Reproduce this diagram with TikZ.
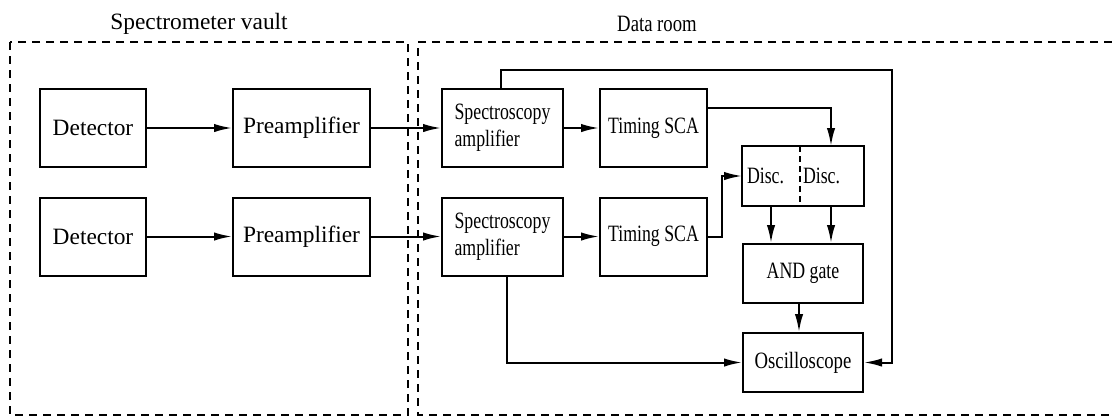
\documentclass[tikz,border=0pt]{standalone}
\usepackage{fontspec}
\setmainfont{Liberation Serif}
\newfontfamily\narrowfont[FakeStretch=0.76]{Liberation Serif}
\newfontfamily\scopefont[FakeStretch=0.8]{Liberation Serif}
\usetikzlibrary{calc,arrows.meta}

\tikzset{
  blk/.style = {draw, line width=1pt, minimum height=39pt, inner sep=2pt,
    font=\fontsize{11.7}{13.5}\selectfont},
  nblk/.style = {blk, font=\fontsize{11.7}{13.5}\selectfont\narrowfont},
  dsc/.style = {line width=1pt, minimum height=29pt, inner xsep=2pt, align=left,
    font=\fontsize{11.7}{13.5}\selectfont\narrowfont},
  zone/.style = {line width=1pt, dash pattern=on 4pt off 3pt},
  sig/.style = {line width=1pt, -{Latex[length=9pt,width=4.2pt]}},
}

\begin{document}
\begin{tikzpicture}[x=0.5pt, y=-0.5pt]
\useasboundingbox (0,0) rectangle (1112,419);

% the two rooms
\draw[zone] (10,42) rectangle (408,415);
\draw[zone] (1112,42) -- (418,42) -- (418,415) -- (1112,415);
\node[font=\fontsize{11.7}{13.5}\selectfont] (vault) at (199,24) {Spectrometer vault};
\node[font=\fontsize{11.7}{13.5}\selectfont\scopefont] (room) at (657,24) {Data room};

% upper chain
\node[blk, minimum width=53pt] (det1) at (93,128) {Detector};
\node[blk, minimum width=68.5pt] (pre1) at (301.5,128) {Preamplifier};
\node[nblk, minimum width=60.5pt, align=left] (amp1) at (502.5,128) {Spectroscopy\\amplifier};
\node[nblk, minimum width=53.5pt] (sca1) at (653.5,128) {Timing SCA};

% lower chain
\node[blk, minimum width=53pt] (det2) at (93,236.5) {Detector};
\node[blk, minimum width=68.5pt] (pre2) at (301.5,236.5) {Preamplifier};
\node[nblk, minimum width=60.5pt, align=left] (amp2) at (502.5,236.5) {Spectroscopy\\amplifier};
\node[nblk, minimum width=53.5pt] (sca2) at (653.5,236.5) {Timing SCA};

% coincidence part
\node[dsc, text width=24pt] (discL) at (771,176) {Disc.};
\node[dsc, text width=28pt] (discR) at (831,176) {Disc.};
\draw[line width=1pt] (discL.north west) rectangle (discR.south east);
\draw[zone, dash pattern=on 3pt off 2pt] (discL.north east) -- (discL.south east);
\node[nblk, minimum width=60pt, minimum height=29.5pt] (gate) at (803,273.5) {AND gate};
\node[blk, minimum width=60pt, minimum height=29.5pt, font=\fontsize{11.7}{13.5}\selectfont\scopefont] (osc) at (803,362.5) {Oscilloscope};

% signals
\draw[sig] (det1) -- (pre1);
\draw[sig] (pre1) -- (amp1);
\draw[sig] (amp1) -- (sca1);
\draw[sig] (det2) -- (pre2);
\draw[sig] (pre2) -- (amp2);
\draw[sig] (amp2) -- (sca2);

\coordinate (turn) at (892,70);
\draw[sig] ($(amp1.north)+(-2,0)$) |- (turn) |- (osc.east);
\draw[sig] ($(sca1.north east)!0.25!(sca1.south east)$) -| (discR.north);
\draw[sig] (sca2.east) -- ++(14,0) |- (discL.west);
\draw[sig] (discL.south) -- (discL.south |- gate.north);
\draw[sig] (discR.south) -- (discR.south |- gate.north);
\draw[sig] ($(gate.south)+(-4,0)$) -- ($(osc.north)+(-4,0)$);
\draw[sig] ($(amp2.south)+(4,0)$) |- (osc.west);
\end{tikzpicture}
\end{document}
